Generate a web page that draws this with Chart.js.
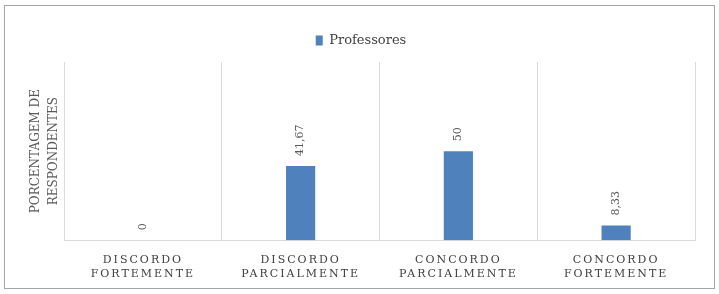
<!DOCTYPE html>
<html>
<head>
<meta charset="utf-8">
<script src="https://cdn.jsdelivr.net/npm/chart.js@4/dist/chart.umd.min.js"></script>
<style>
  html, body { margin: 0; padding: 0; background: #fff; }
  #wrap { position: relative; width: 719px; height: 294px; }
  #frame { position: absolute; left: 4px; top: 5px; width: 709px; height: 282px; border: 1px solid #a6a6a6; pointer-events: none; }
</style>
</head>
<body>
<div id="wrap">
  <canvas id="chart" width="719" height="294"></canvas>
  <div id="frame"></div>
</div>
<script>
var categories = [
  ["DISCORDO", "FORTEMENTE"],
  ["DISCORDO", "PARCIALMENTE"],
  ["CONCORDO", "PARCIALMENTE"],
  ["CONCORDO", "FORTEMENTE"]
]
var seriesName = "Professores"
var professores = [0, 41.67, 50, 8.33]
var yTitle = ["PORCENTAGEM DE", "RESPONDENTES"]

var fontFamily = "'DejaVu Serif', serif"

// value labels rotated above each bar, comma decimal
var barLabels = {
  id: 'barLabels',
  afterDatasetsDraw: function(chart) {
    var ctx = chart.ctx
    var meta = chart.getDatasetMeta(0)
    ctx.save()
    ctx.fillStyle = '#595959'
    ctx.font = '11px ' + fontFamily
    ctx.textAlign = 'left'
    ctx.textBaseline = 'middle'
    meta.data.forEach(function(bar, i) {
      var txt = String(professores[i]).replace('.', ',')
      ctx.save()
      ctx.translate(bar.x, bar.y - 10)
      ctx.rotate(-Math.PI / 2)
      ctx.fillText(txt, 0, 0)
      ctx.restore()
    })
    ctx.restore()
  }
}

// letter spaced category labels
var spacedTicks = {
  id: 'spacedTicks',
  beforeDraw: function(chart) {
    var sc = chart.scales.x
    if (sc && !sc._spaced) {
      var orig = sc.drawLabels
      sc.drawLabels = function(area) {
        this.ctx.save()
        this.ctx.letterSpacing = '2px'
        orig.call(this, area)
        this.ctx.restore()
      }
      sc._spaced = true
    }
  }
}

// a bit more room under the legend
var legendGap = {
  id: 'legendGap',
  beforeInit: function(chart) {
    var origFit = chart.legend.fit
    chart.legend.fit = function() {
      origFit.call(this)
      this.height += 5
    }
  }
}

var chart = new Chart(document.getElementById('chart'), {
  type: 'bar',
  data: {
    labels: categories,
    datasets: [{
      label: seriesName,
      data: professores,
      backgroundColor: '#4f81bd',
      borderWidth: 0,
      categoryPercentage: 1,
      barPercentage: 0.185
    }]
  },
  options: {
    responsive: false,
    animation: false,
    layout: { padding: { left: 27, right: 24, top: 11, bottom: 0 } },
    plugins: {
      legend: {
        position: 'top',
        labels: {
          boxWidth: 7,
          boxHeight: 10,
          padding: 23,
          color: '#404040',
          font: { family: fontFamily, size: 13 }
        }
      },
      tooltip: { enabled: false }
    },
    scales: {
      x: {
        grid: { offset: true, color: '#d9d9d9', drawTicks: false },
        border: { color: '#d9d9d9' },
        ticks: {
          color: '#404040',
          padding: 12,
          maxRotation: 0,
          font: { family: fontFamily, size: 11, lineHeight: 1.35 }
        }
      },
      y: {
        min: 0,
        max: 100,
        grid: { display: false, drawTicks: false },
        border: { display: false },
        ticks: { display: false },
        title: {
          display: true,
          text: yTitle,
          color: '#595959',
          padding: { top: 0, bottom: 1 },
          font: { family: fontFamily, size: 12, lineHeight: 1.5 }
        }
      }
    }
  },
  plugins: [barLabels, spacedTicks, legendGap]
})
</script>
</body>
</html>
